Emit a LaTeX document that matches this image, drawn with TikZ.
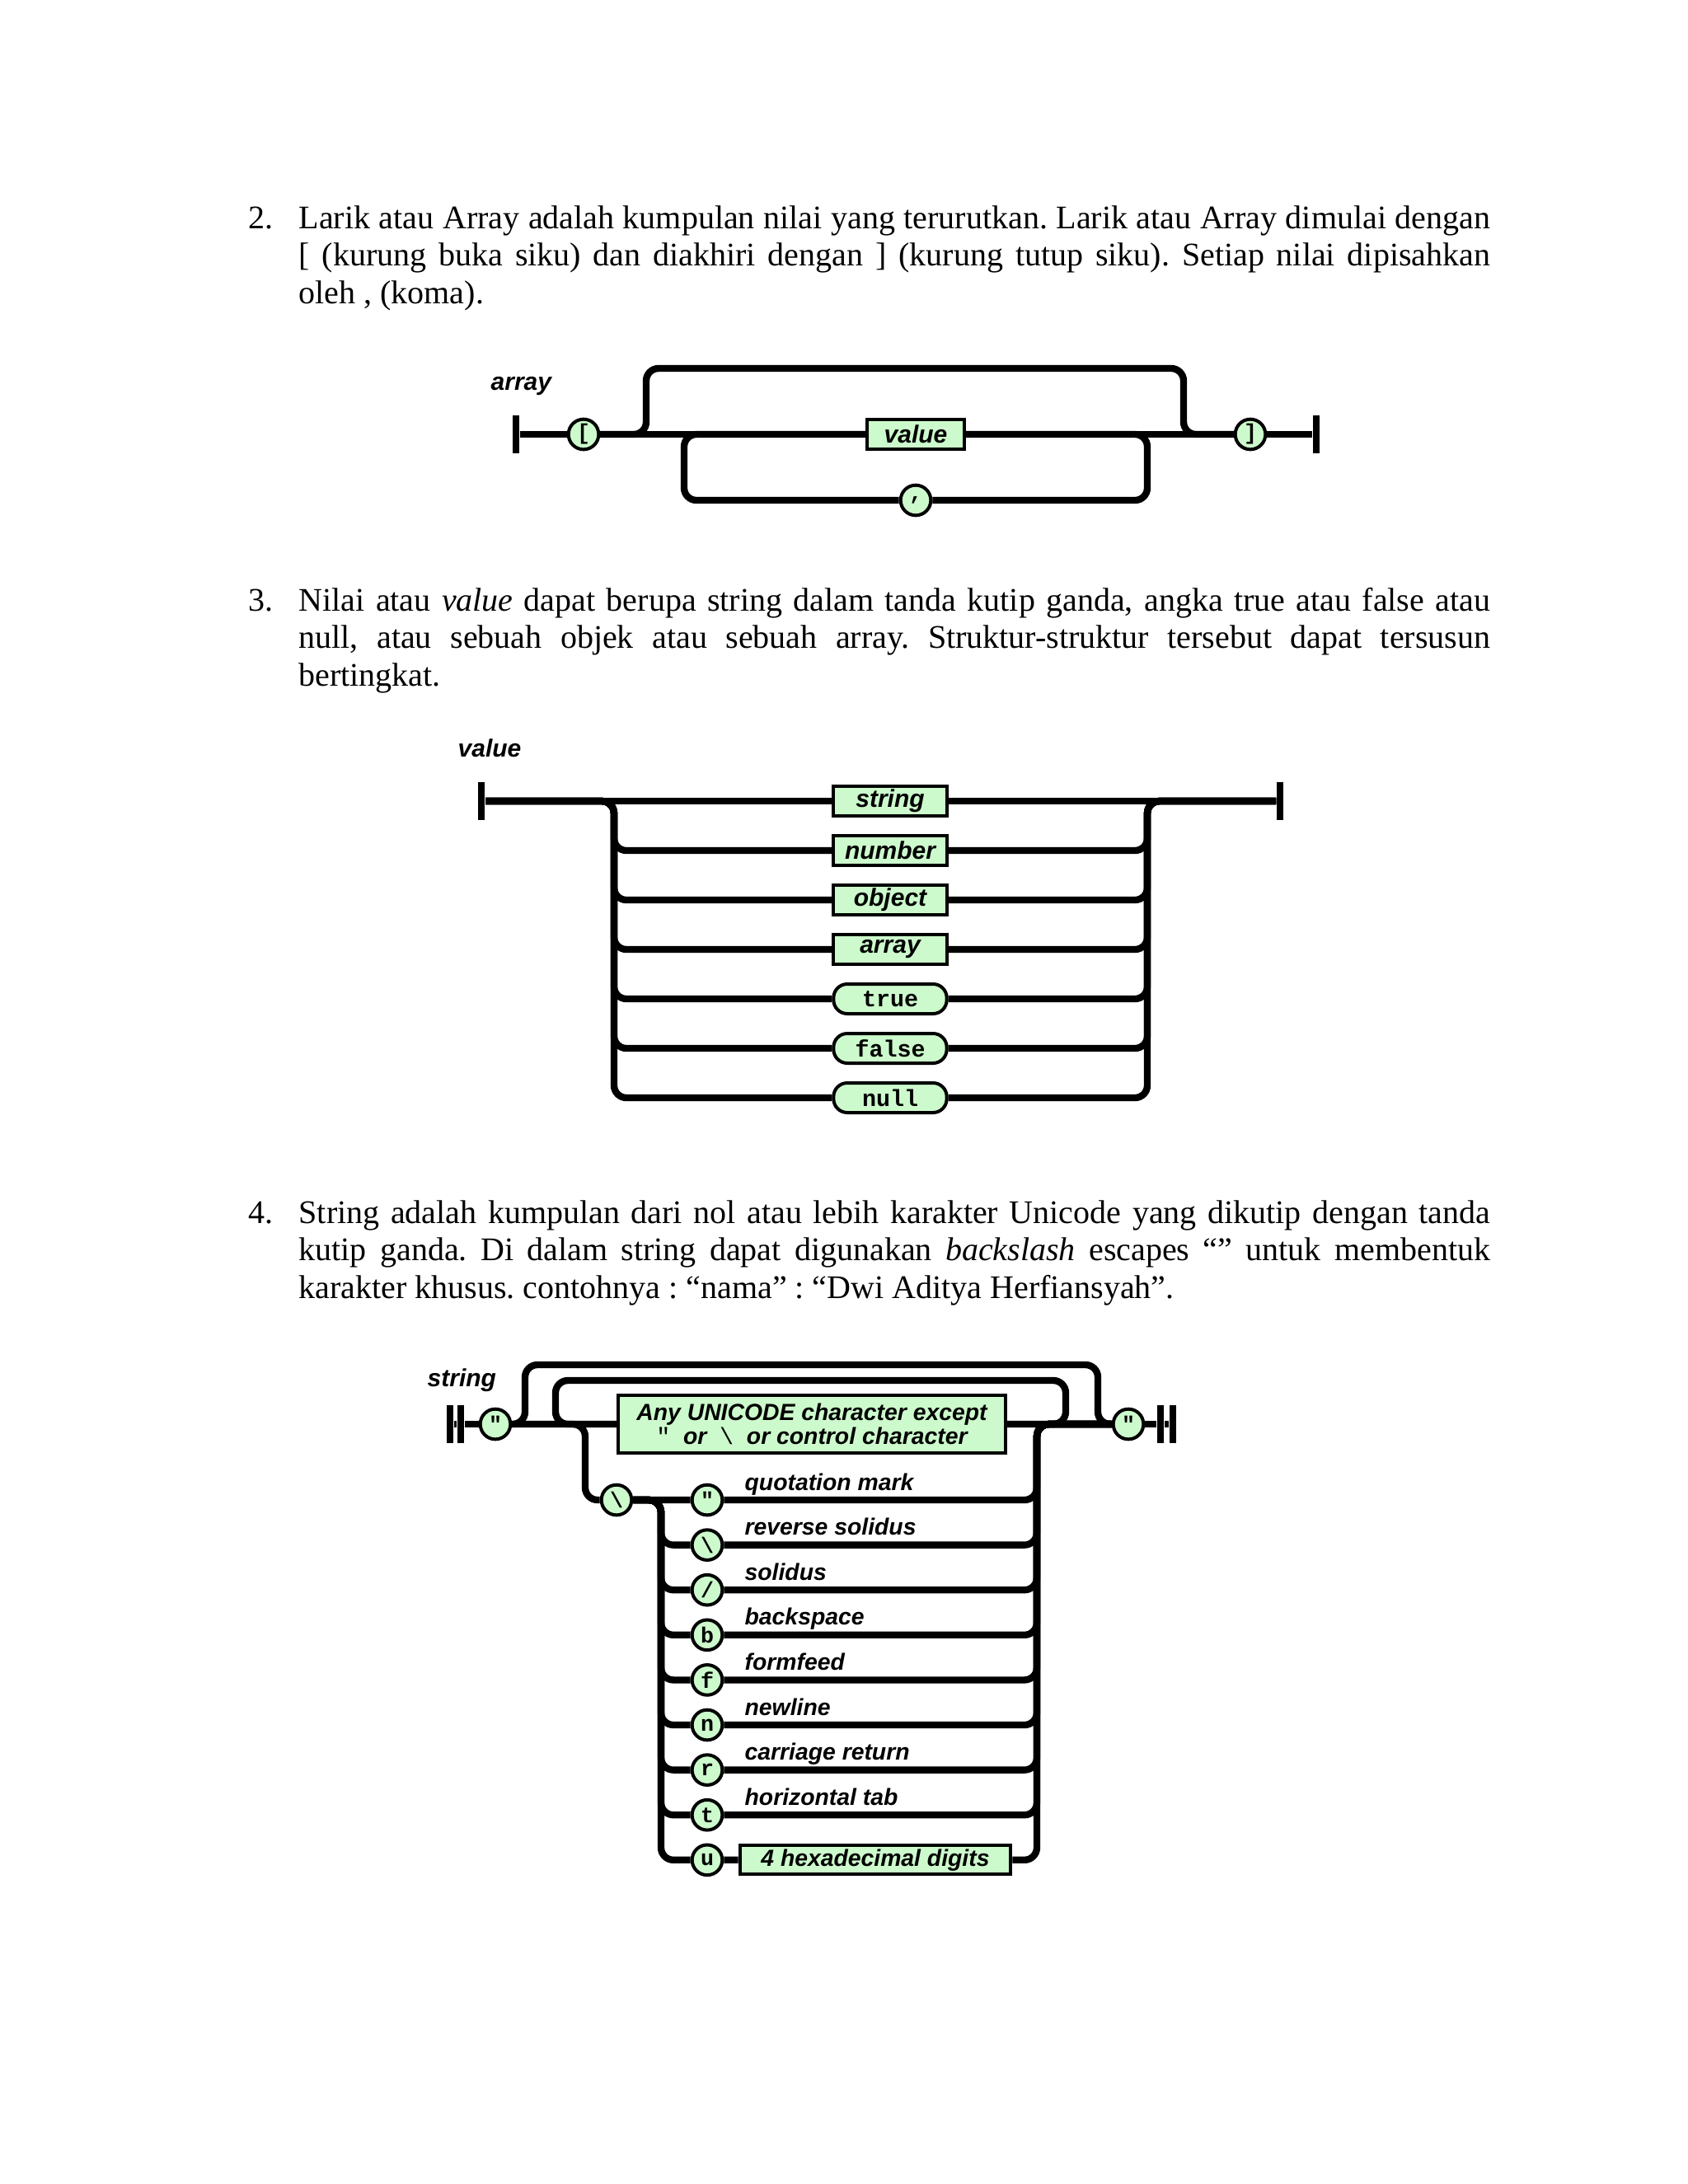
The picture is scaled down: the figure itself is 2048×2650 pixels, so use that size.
\documentclass[tikz,border=0pt]{standalone}
\usepackage{fontspec}
\setmainfont{Liberation Serif}
\setsansfont{Liberation Sans}
\setmonofont{Liberation Mono}
\definecolor{railgreen}{RGB}{204,250,204}

\begin{document}
\begin{tikzpicture}[x=0.010542cm, y=-0.010542cm]
\tikzstyle{paratext}=[anchor=base west, inner sep=0pt, text width=6in, align=justify, font={\fontsize{12}{13.75}\selectfont\frenchspacing\hyphenpenalty=10000 \exhyphenpenalty=10000\relax}]
\tikzstyle{itemnum}=[anchor=base west, inner sep=0pt, font=\fontsize{12}{13.75}\selectfont]
\tikzstyle{diagname}=[anchor=base west, inner sep=0pt, font=\sffamily\bfseries\itshape\fontsize{9}{10}\selectfont]
\tikzstyle{esclabel}=[anchor=base west, inner sep=0pt, font=\sffamily\bfseries\itshape\fontsize{8.5}{10}\selectfont]
\tikzstyle{rail}=[line width=2.5pt, rounded corners=4.5pt]
\tikzstyle{stopbar}=[rectangle, fill=black, inner sep=0pt, minimum width=2.6pt, minimum height=14pt]
\tikzstyle{term}=[circle, draw, line width=1.2pt, fill=railgreen, inner sep=0pt, minimum size=11pt, font=\ttfamily\bfseries\fontsize{8}{8}\selectfont]
\tikzstyle{nonterm}=[rectangle, draw, line width=1.2pt, fill=railgreen, inner sep=0pt, minimum width=41.2pt, minimum height=10.8pt, font=\sffamily\bfseries\itshape\fontsize{9}{10}\selectfont]
\tikzstyle{lit}=[nonterm, rounded corners=5pt, font=\ttfamily\bfseries\fontsize{8.5}{9}\selectfont]
\useasboundingbox[fill=white] (0,0) rectangle (2048,2650);

\node[itemnum] (n2) at (301,277) {2.};
\node[paratext] (p2) at (362,277) {Larik atau Array adalah kumpulan nilai yang terurutkan. Larik atau Array dimulai dengan\linebreak{}[ (kurung buka siku) dan diakhiri dengan ] (kurung tutup siku). Setiap nilai dipisahkan\linebreak{}oleh , (koma).};

\node[diagname] (tarray) at (595,473) {array};
\node[stopbar] (abeg) at (626,527) {};
\node[term] (lbrk) at (708,527) {[};
\node[nonterm, minimum width=35.5pt] (aval) at (1111,527) {value};
\node[term] (rbrk) at (1517,527) {]};
\node[stopbar] (aend) at (1597,527) {};
\node[term] (comma) at (1111,607) {,};
\coordinate (atopl) at (784,447);
\coordinate (atopr) at (1436,447);
\coordinate (abotl) at (830,607);
\coordinate (abotr) at (1392,607);
\draw[rail] (abeg) -- (lbrk) -- (aval) -- (rbrk) -- (aend);
\draw[rail] (lbrk) -| (atopl) -- (atopr) |- (rbrk);
\draw[rail] (aval) -| (abotr) -- (comma) -- (abotl) |- (aval);

\node[itemnum] (n3) at (301,741) {3.};
\node[paratext] (p3) at (362,741) {Nilai atau \textit{value} dapat berupa string dalam tanda kutip ganda, angka true atau false atau\linebreak{}null, atau sebuah objek atau sebuah array. Struktur-struktur tersebut dapat tersusun\linebreak{}bertingkat.};

\node[diagname] (tvalue) at (555,918) {value};
\node[stopbar] (vbeg) at (584,972) {};
\node[nonterm] (vstring) at (1080,972) {string};
\node[nonterm] (vnumber) at (1080,1032) {number};
\node[nonterm] (vobject) at (1080,1092) {object};
\node[nonterm] (varray) at (1080,1152) {array};
\node[lit] (vtrue) at (1080,1212) {true};
\node[lit] (vfalse) at (1080,1272) {false};
\node[lit] (vnull) at (1080,1332) {null};
\node[stopbar] (vend) at (1553,972) {};
\coordinate (vleft) at (745,972);
\coordinate (vright) at (1392,972);
\draw[rail] (vbeg) -- (vstring) -- (vend);
\draw[rail] (vbeg) -| (vleft |- vnumber) -- (vnumber) -- (vright |- vnumber) |- (vend);
\draw[rail] (vbeg) -| (vleft |- vobject) -- (vobject) -- (vright |- vobject) |- (vend);
\draw[rail] (vbeg) -| (vleft |- varray) -- (varray) -- (vright |- varray) |- (vend);
\draw[rail] (vbeg) -| (vleft |- vtrue) -- (vtrue) -- (vright |- vtrue) |- (vend);
\draw[rail] (vbeg) -| (vleft |- vfalse) -- (vfalse) -- (vright |- vfalse) |- (vend);
\draw[rail] (vbeg) -| (vleft |- vnull) -- (vnull) -- (vright |- vnull) |- (vend);

\node[itemnum] (n4) at (301,1484) {4.};
\node[paratext] (p4) at (362,1484) {String adalah kumpulan dari nol atau lebih karakter Unicode yang dikutip dengan tanda\linebreak{}kutip ganda. Di dalam string dapat digunakan \textit{backslash} escapes “” untuk membentuk\linebreak{}karakter khusus. contohnya : “nama” : “Dwi Aditya Herfiansyah”.};

\node[diagname] (tstring) at (518,1682) {string};
\node[stopbar] (sbeg1) at (546,1728) {};
\node[stopbar] (sbeg2) at (559,1728) {};
\node[term] (lquot) at (601,1728) {"};
\node[nonterm, minimum width=141pt, minimum height=21.2pt, align=center, font=\sffamily\bfseries\itshape\fontsize{8.5}{8.7}\selectfont] (anychar) at (985,1728) {Any UNICODE character except\\{\ttfamily\upshape\mdseries "}\ \ or\ \ {\ttfamily\upshape\mdseries \textbackslash}\ \ or control character};
\node[term] (rquot) at (1369,1728) {"};
\node[stopbar] (send1) at (1408,1728) {};
\node[stopbar] (send2) at (1423,1728) {};
\node[term] (bslash) at (748,1820) {\textbackslash};
\node[term] (equot) at (858,1820) {"};
\node[term] (ebsl) at (858,1874.6) {\textbackslash};
\node[term] (eslash) at (858,1929.2) {/};
\node[term] (eb) at (858,1983.8) {b};
\node[term] (ef) at (858,2038.4) {f};
\node[term] (en) at (858,2093) {n};
\node[term] (er) at (858,2147.6) {r};
\node[term] (et) at (858,2202.2) {t};
\node[term] (eu) at (858,2256.8) {u};
\node[nonterm, minimum width=98.6pt, minimum height=10.5pt, font=\sffamily\bfseries\itshape\fontsize{8.5}{10}\selectfont] (hex) at (1062,2256.8) {4 hexadecimal digits};
\node[esclabel] (lquotm) at (903,1808) {quotation mark};
\node[esclabel] (lrsol) at (903,1862.6) {reverse solidus};
\node[esclabel] (lsol) at (903,1917.2) {solidus};
\node[esclabel] (lbsp) at (903,1971.8) {backspace};
\node[esclabel] (lff) at (903,2026.4) {formfeed};
\node[esclabel] (lnl) at (903,2081) {newline};
\node[esclabel] (lcr) at (903,2135.6) {carriage return};
\node[esclabel] (ltab) at (903,2190.2) {horizontal tab};
\coordinate (souterl) at (637,1656);
\coordinate (souterr) at (1332,1656);
\coordinate (sinnerl) at (674,1675);
\coordinate (sinnerr) at (1293,1675);
\coordinate (sescl) at (710,1728);
\coordinate (sescm) at (802,1820);
\coordinate (sescr) at (1258,1728);
\draw[rail] (sbeg1) -- (sbeg2) -- (lquot) -- (anychar) -- (rquot) -- (send1) -- (send2);
\draw[rail] (lquot) -| (souterl) -- (souterr) |- (rquot);
\draw[rail] (anychar) -| (sinnerr) -- (sinnerl) |- (anychar);
\draw[rail] (lquot) -| (sescl |- bslash) -- (bslash) -- (equot) -- (sescr |- equot) |- (rquot);
\draw[rail] (bslash) -| (sescm |- ebsl) -- (ebsl) -- (sescr |- ebsl) |- (rquot);
\draw[rail] (bslash) -| (sescm |- eslash) -- (eslash) -- (sescr |- eslash) |- (rquot);
\draw[rail] (bslash) -| (sescm |- eb) -- (eb) -- (sescr |- eb) |- (rquot);
\draw[rail] (bslash) -| (sescm |- ef) -- (ef) -- (sescr |- ef) |- (rquot);
\draw[rail] (bslash) -| (sescm |- en) -- (en) -- (sescr |- en) |- (rquot);
\draw[rail] (bslash) -| (sescm |- er) -- (er) -- (sescr |- er) |- (rquot);
\draw[rail] (bslash) -| (sescm |- et) -- (et) -- (sescr |- et) |- (rquot);
\draw[rail] (bslash) -| (sescm |- eu) -- (eu) -- (hex) -- (sescr |- hex) |- (rquot);
\end{tikzpicture}
\end{document}
